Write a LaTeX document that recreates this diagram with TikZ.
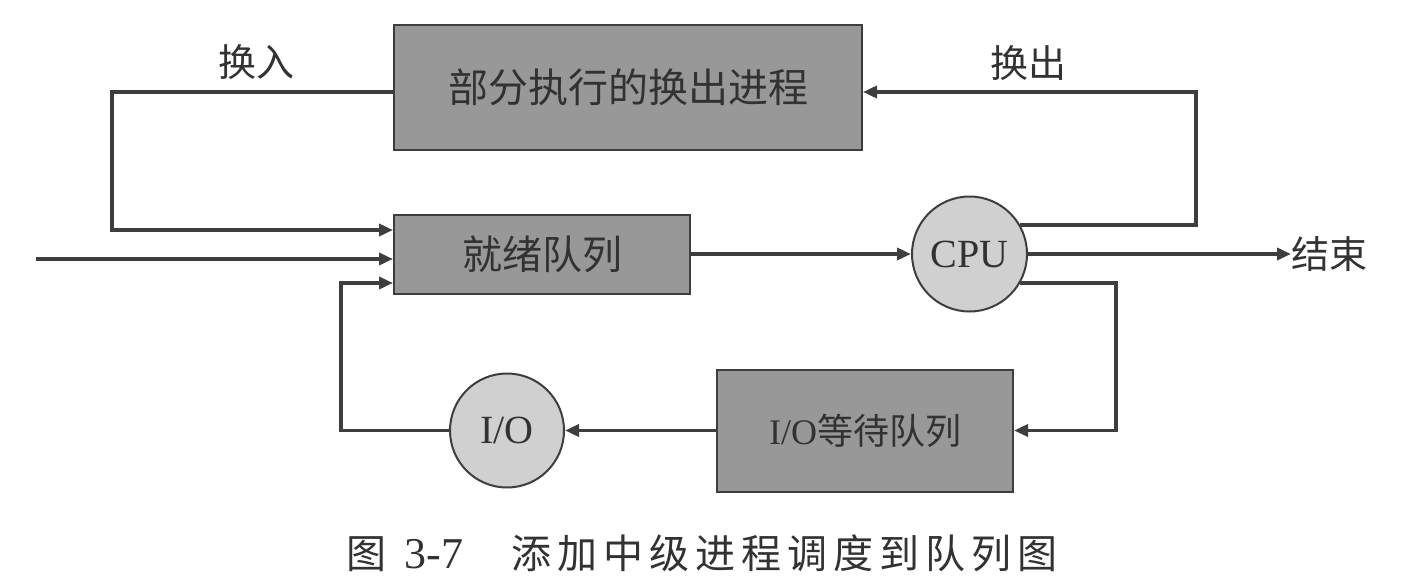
\documentclass[tikz,border=0pt]{standalone}
\usepackage{fontspec}
\setmainfont{Liberation Serif}
\newfontfamily\cjk{Noto Sans CJK SC}
\newfontfamily\cjkcap[LetterSpace=15]{Noto Sans CJK SC}
\usetikzlibrary{arrows.meta}
\definecolor{boxfill}{RGB}{152,152,152}
\definecolor{circfill}{RGB}{208,208,208}
\definecolor{ink}{RGB}{62,62,62}
\definecolor{txt}{RGB}{50,50,50}
\begin{document}
\begin{tikzpicture}[x=0.5pt,y=-0.5pt,
  queuebox/.style={draw=ink,line width=1pt,fill=boxfill,inner sep=0pt,text=txt,font=\fontsize{20}{24}\selectfont\cjk},
  devcirc/.style={draw=ink,line width=1pt,fill=circfill,circle,inner sep=0pt,text=txt,font=\fontsize{20}{24}\selectfont},
  lbl/.style={text=txt,inner sep=0pt,font=\fontsize{19}{22}\selectfont\cjk},
  arr/.style={draw=ink,line width=1.8pt,-{Triangle[length=7pt,width=6pt]}}]
\useasboundingbox (0,0) rectangle (1406,583);
\fill[white] (0,0) rectangle (1406,583);

\node[queuebox,minimum width=234pt,minimum height=62.5pt] (top) at (628,87.5) {部分执行的换出进程};
\node[queuebox,minimum width=148pt,minimum height=39.5pt] (ready) at (542,254) {就绪队列};
\node[devcirc,minimum size=57.5pt] (cpu) at (969.5,254) {CPU};
\node[queuebox,minimum width=148pt,minimum height=61pt,font=\fontsize{18}{22}\selectfont] (iowait) at (865,430.5) {I/O\cjk 等待队列};
\node[devcirc,minimum size=57pt] (io) at (507,430.5) {I/O};

\node[lbl] (swin) at (256,62) {换入};
\node[lbl] (swout) at (1028,63) {换出};
\node[lbl,anchor=west] (end) at (1291,254) {结束};
\coordinate (src) at (36,259);

\node[text=txt,inner sep=0pt,anchor=west,font=\fontsize{20}{24}\selectfont] (cap) at (346,553) {{\cjk 图}\hspace{0.45em}{\fontsize{22}{24}\selectfont 3-7}\hspace{1.2em}{\cjkcap 添加中级进程调度到队列图}};

% swap in
\draw[arr] (top.west |- 0,92) -- (112,92) -- (112,230) -- (ready.west |- 0,230);
% new process
\draw[arr] (src) -- (ready.west |- src);
% ready -> cpu
\draw[arr] (ready.east) -- (cpu.west);
% cpu -> end
\draw[arr] (cpu.east) -- (end.west);
% cpu -> swap out
\draw[arr] (cpu.30) -| (1196,92) -- (top.east |- 0,92);
% cpu -> io wait
\draw[arr] (cpu.-30) -| (1116,430.5) -- (iowait.east);
% io wait -> io
\draw[arr] (iowait.west) -- (io.east);
% io -> ready
\draw[arr] (io.west) -- (341,430.5) -- (341,283) -- (ready.west |- 0,283);
\end{tikzpicture}
\end{document}
